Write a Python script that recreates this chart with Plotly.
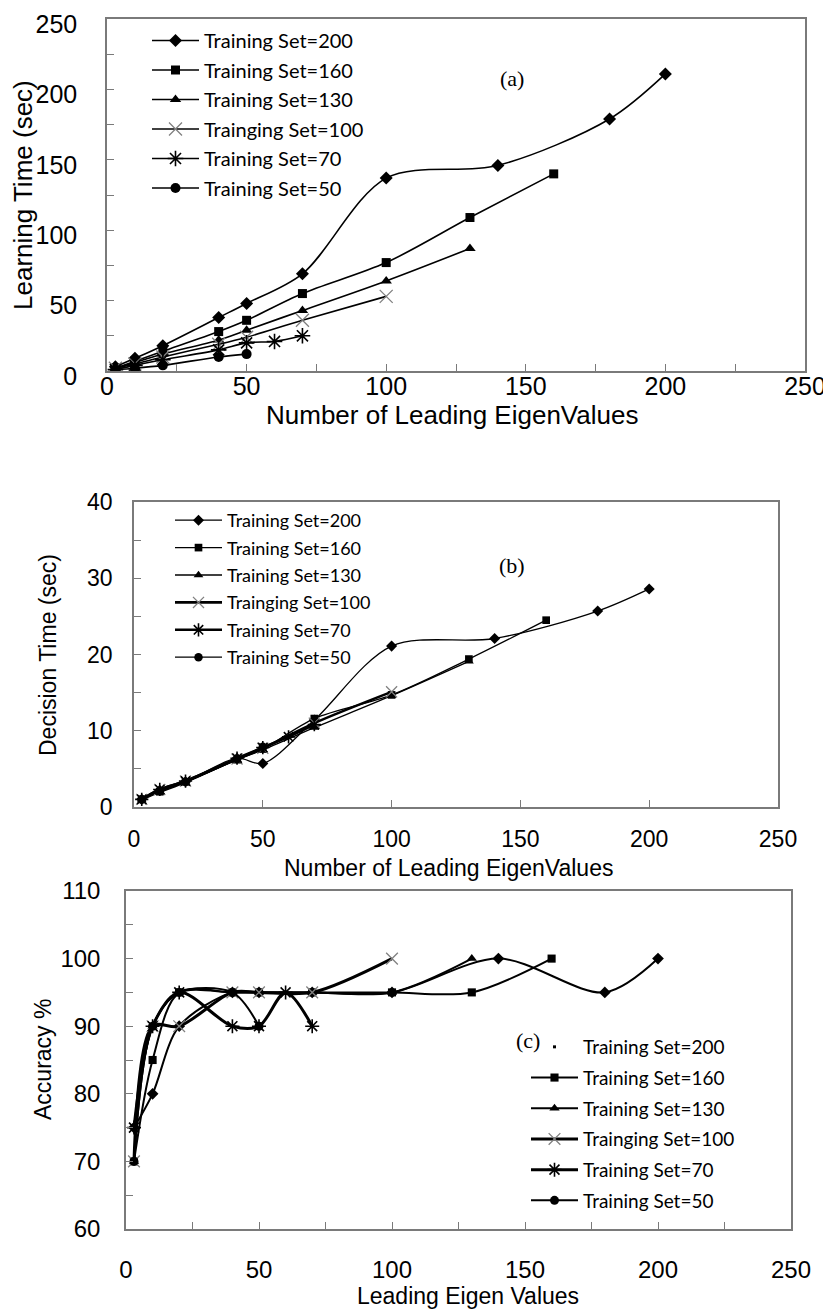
import plotly.graph_objects as go

W, H = 831, 1311
OFF = 8  # page body margin of the html page

# ---------------- data ----------------
names = ["Training Set=200", "Training Set=160", "Training Set=130",
         "Trainging Set=100", "Training Set=70", "Training Set=50"]

x200 = [3, 10, 20, 40, 50, 70, 100, 140, 180, 200]
x160 = [3, 10, 20, 40, 50, 70, 100, 130, 160]
x130 = [3, 10, 20, 40, 50, 70, 100, 130]
x100 = [3, 10, 20, 40, 50, 70, 100]
x70 = [3, 10, 20, 40, 50, 60, 70]
x50 = [3, 10, 20, 40, 50]

# (a) learning time (sec)
learn200 = [3, 9, 18, 38, 48, 69, 137, 146, 179, 211]
learn160 = [2, 7, 14, 28, 36, 55, 77, 109, 140]
learn130 = [2, 6, 12, 22, 29, 43, 64, 87]
learn100 = [2, 5, 10, 19, 24, 36, 53]
learn70 = [1, 4, 8, 15, 20, 21, 25]
learn50 = [1, 2, 4, 10, 12]

# (b) decision time (sec)
dec200 = [1.0, 2.2, 3.3, 6.4, 5.7, 11.4, 21.1, 22.1, 25.7, 28.6]
dec160 = [1.0, 2.0, 3.3, 6.2, 7.6, 11.6, 14.7, 19.4, 24.5]
dec130 = [0.9, 1.9, 3.2, 6.2, 7.5, 10.4, 14.6, 19.1]
dec100 = [1.0, 2.3, 3.4, 6.3, 7.7, 11.0, 15.1]
dec70 = [1.0, 2.3, 3.4, 6.4, 7.8, 9.2, 10.8]
dec50 = [1.0, 2.1, 3.3, 6.3, 7.9]

# (c) accuracy %
acc200 = [75, 80, 90, 95, 95, 95, 95, 100, 95, 100]
acc160 = [70, 85, 95, 95, 95, 95, 95, 95, 100]
acc130 = [70, 90, 95, 95, 95, 95, 95, 100]
acc100 = [70, 90, 90, 95, 95, 95, 100]
acc70 = [75, 90, 95, 90, 90, 95, 90]
acc50 = [70, 90, 95, 95, 90]

# ---------------- styling ----------------
GRAY = "#808080"
AXC = "#7a7a7a"
TICKFONT = "Liberation Sans"
LEGFONT = "Lato"

symbols = ["diamond", "square", "triangle-up", "x-thin-open", "asterisk-open", "circle"]
sizes = [10, 9, 10, 13, 13, 10]
mcolors = ["black", "black", "black", GRAY, "black", "black"]

fig = go.Figure()


def add_panel(xs_list, ys_list, xa, ya, legend, widths, msc=1.0, show200=True):
    for i, (xs, ys) in enumerate(zip(xs_list, ys_list)):
        sym = symbols[i]
        marker = dict(symbol=sym, size=sizes[i] * msc, color=mcolors[i])
        if sym.endswith("open"):
            marker["line"] = dict(color=mcolors[i], width=1.3 if i == 3 else 1.6)
        showleg = not (i == 0 and not show200)
        fig.add_trace(go.Scatter(
            x=xs, y=ys, mode="lines+markers", name=names[i],
            line=dict(color="black", width=widths[i], shape="spline", smoothing=0.9),
            marker=marker, xaxis=xa, yaxis=ya, legend=legend,
            legendgroup=legend + str(i), showlegend=showleg,
        ))


xs_all = [x200, x160, x130, x100, x70, x50]

add_panel(xs_all, [learn200, learn160, learn130, learn100, learn70, learn50],
          "x", "y", "legend", [1.6] * 6)
add_panel(xs_all, [dec200, dec160, dec130, dec100, dec70, dec50],
          "x2", "y2", "legend2", [1.3, 1.3, 1.3, 2.6, 2.6, 1.3], msc=0.85)
# legend-only entry for (c) Training Set=200 (shown as a small dot)
fig.add_trace(go.Scatter(x=[None], y=[None], mode="markers", name=names[0],
                         marker=dict(symbol="square", size=3, color="black"),
                         xaxis="x3", yaxis="y3", legend="legend3",
                         legendgroup="legend3_dummy"))
add_panel(xs_all, [acc200, acc160, acc130, acc100, acc70, acc50],
          "x3", "y3", "legend3", [2.0, 2.0, 2.0, 3.0, 3.0, 2.0], msc=0.9, show200=False)


def px(xp):
    return (xp - OFF) / W


def py(yp):
    return (H - (yp - OFF)) / H


def px_dom_x(a, b):
    return [px(a), px(b)]


def px_dom_y(top, bottom):
    return [py(bottom), py(top)]


def xaxis(dom, anchor, minor, fs, standoff):
    d = dict(domain=dom, anchor=anchor, range=[0, 250], dtick=50, tick0=0,
             automargin=False, ticklabeloverflow="allow",
             showgrid=False, zeroline=False, showline=True, linecolor=AXC,
             linewidth=1.5, mirror=True, ticks="inside", ticklen=7,
             tickcolor=AXC, tickwidth=1.2,
             tickfont=dict(family=TICKFONT, size=fs, color="black"),
             ticklabelstandoff=standoff)
    if minor:
        d["minor"] = dict(dtick=25, ticks="inside", ticklen=7, tickcolor=AXC,
                          tickwidth=1.2, showgrid=False)
    return d


def yaxis(dom, anchor, rng, dt, mdt, fs, standoff, shift=0):
    return dict(domain=dom, anchor=anchor, range=rng, dtick=dt, tick0=rng[0],
                automargin=False, ticklabeloverflow="allow",
                showgrid=False, zeroline=False, showline=True, linecolor=AXC,
                linewidth=1.5, mirror=True, ticks="inside", ticklen=7,
                tickcolor=AXC, tickwidth=1.2,
                tickfont=dict(family=TICKFONT, size=fs, color="black"),
                ticklabelstandoff=standoff, ticklabelshift=shift,
                minor=dict(dtick=mdt, ticks="inside", ticklen=7, tickcolor=AXC,
                           tickwidth=1.2, showgrid=False))


def label(text, x, y, size, angle=0, family=TICKFONT):
    return dict(text=text, x=px(x), y=py(y), xref="paper", yref="paper",
                xanchor="center", yanchor="middle", textangle=angle,
                showarrow=False, font=dict(family=family, size=size, color="black"))


fig.update_layout(
    width=W, height=H, margin=dict(l=0, r=0, t=0, b=0, autoexpand=False),
    paper_bgcolor="white", plot_bgcolor="white", showlegend=True,
    xaxis=xaxis(px_dom_x(107, 805), "y", True, 25, -8),
    yaxis=yaxis(px_dom_y(19, 371), "x", [0, 250], 50, 25, 25, 23, shift=5),
    xaxis2=xaxis(px_dom_x(134, 778), "y2", False, 23, 11),
    yaxis2=yaxis(px_dom_y(502, 807), "x2", [0, 40], 10, 5, 23, 15),
    xaxis3=xaxis(px_dom_x(126, 791), "y3", True, 24, 18),
    yaxis3=yaxis(px_dom_y(891, 1229), "x3", [60, 110], 10, 5, 24, 19),
    legend=dict(x=px(147), y=py(21), xanchor="left", yanchor="top",
                bgcolor="rgba(0,0,0,0)", traceorder="grouped", tracegroupgap=0.5,
                itemwidth=47, font=dict(family=LEGFONT, size=20, color="black")),
    legend2=dict(x=px(170), y=py(502), xanchor="left", yanchor="top",
                 bgcolor="rgba(0,0,0,0)", traceorder="grouped", tracegroupgap=1,
                 itemwidth=47, font=dict(family=LEGFONT, size=18, color="black")),
    legend3=dict(x=px(526), y=py(1028), xanchor="left", yanchor="top",
                 bgcolor="rgba(0,0,0,0)", traceorder="grouped", tracegroupgap=3,
                 itemwidth=47, font=dict(family=LEGFONT, size=19, color="black")),
    annotations=[
        label("(a)", 512, 78, 22, family="Liberation Serif"),
        label("(b)", 512, 565, 22, family="Liberation Serif"),
        label("(c)", 528, 1040, 22, family="Liberation Serif"),
        # axis titles
        label("Number of Leading EigenValues", 452, 415, 26),
        label("Learning Time (sec)", 23, 195, 26, angle=-90),
        label("Number of Leading EigenValues", 448, 868, 23),
        label("Decision Time (sec)", 48, 655, 23, angle=-90),
        label("Leading Eigen Values", 468, 1296, 23),
        label("Accuracy %", 43, 1060, 23, angle=-90),
    ],
)

fig.write_html("out.html")
